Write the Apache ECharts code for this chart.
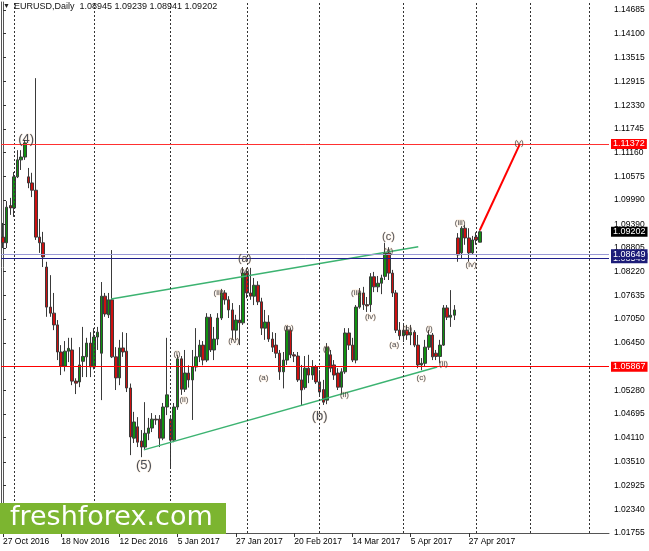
<!DOCTYPE html>
<html><head><meta charset="utf-8">
<script src="https://cdn.jsdelivr.net/npm/echarts@6/dist/echarts.min.js"></script>
<style>html,body{margin:0;padding:0;background:#fff}#c{width:649px;height:551px}</style>
</head><body><div id="c"></div>
<script>
const dates = [
'2016-10-27','2016-10-28','2016-10-31','2016-11-01','2016-11-02','2016-11-03','2016-11-04','2016-11-07','2016-11-08','2016-11-09',
'2016-11-10','2016-11-11','2016-11-14','2016-11-15','2016-11-16','2016-11-17','2016-11-18','2016-11-21','2016-11-22','2016-11-23',
'2016-11-24','2016-11-25','2016-11-28','2016-11-29','2016-11-30','2016-12-01','2016-12-02','2016-12-05','2016-12-06','2016-12-07',
'2016-12-08','2016-12-09','2016-12-12','2016-12-13','2016-12-14','2016-12-15','2016-12-16','2016-12-19','2016-12-20','2016-12-21',
'2016-12-22','2016-12-23','2016-12-27','2016-12-28','2016-12-29','2016-12-30','2017-01-03','2017-01-04','2017-01-05','2017-01-06',
'2017-01-09','2017-01-10','2017-01-11','2017-01-12','2017-01-13','2017-01-16','2017-01-17','2017-01-18','2017-01-19','2017-01-20',
'2017-01-23','2017-01-24','2017-01-25','2017-01-26','2017-01-27','2017-01-30','2017-01-31','2017-02-01','2017-02-02','2017-02-03',
'2017-02-06','2017-02-07','2017-02-08','2017-02-09','2017-02-10','2017-02-13','2017-02-14','2017-02-15','2017-02-16','2017-02-17',
'2017-02-20','2017-02-21','2017-02-22','2017-02-23','2017-02-24','2017-02-27','2017-02-28','2017-03-01','2017-03-02','2017-03-03',
'2017-03-06','2017-03-07','2017-03-08','2017-03-09','2017-03-10','2017-03-13','2017-03-14','2017-03-15','2017-03-16','2017-03-17',
'2017-03-20','2017-03-21','2017-03-22','2017-03-23','2017-03-24','2017-03-27','2017-03-28','2017-03-29','2017-03-30','2017-03-31',
'2017-04-03','2017-04-04','2017-04-05','2017-04-06','2017-04-07','2017-04-10','2017-04-11','2017-04-12','2017-04-13','2017-04-14',
'2017-04-17','2017-04-18','2017-04-19','2017-04-20','2017-04-21','2017-04-24','2017-04-25','2017-04-26','2017-04-27','2017-04-28',
'2017-05-01','2017-05-02'];
const open = [
1.0907,1.0893,1.0985,1.0979,1.1056,1.1098,1.1105,1.1056,1.1041,1.1023,
1.0907,1.0893,1.0833,1.0734,1.0719,1.0690,1.0623,1.0588,1.0625,1.0628,
1.0551,1.0549,1.0600,1.0611,1.0645,1.0586,1.0660,1.0620,1.0761,1.0715,
1.0752,1.0611,1.0559,1.0633,1.0625,1.0534,1.0410,1.0438,1.0403,1.0388,
1.0422,1.0435,1.0457,1.0457,1.0410,1.0487,1.0457,1.0405,1.0487,1.0606,
1.0531,1.0571,1.0554,1.0586,1.0611,1.0640,1.0603,1.0709,1.0628,1.0655,
1.0707,1.0769,1.0752,1.0727,1.0677,1.0702,1.0695,1.0818,1.0769,1.0761,
1.0788,1.0747,1.0682,1.0697,1.0655,1.0640,1.0620,1.0574,1.0603,1.0677,
1.0616,1.0613,1.0554,1.0535,1.0583,1.0566,1.0586,1.0549,1.0530,1.0504,
1.0616,1.0591,1.0571,1.0536,1.0574,1.0670,1.0640,1.0603,1.0734,1.0769,
1.0740,1.0740,1.0809,1.0784,1.0793,1.0810,1.0868,1.0818,1.0769,1.0677,
1.0663,1.0677,1.0665,1.0672,1.0640,1.0591,1.0595,1.0635,1.0665,1.0620,
1.0612,1.0640,1.0732,1.0709,1.0714,1.0905,1.0868,1.0929,1.0905,1.0868,
1.0907,1.08945];
const high = [
1.0942,1.0996,1.1004,1.1068,1.1122,1.1122,1.1147,1.1078,1.1066,1.1300,
1.0952,1.0920,1.0846,1.0813,1.0769,1.0702,1.0640,1.0650,1.0658,1.0658,
1.0558,1.0635,1.0685,1.0658,1.0672,1.0682,1.0685,1.0796,1.0769,1.0769,
1.0875,1.0635,1.0653,1.0672,1.0670,1.0545,1.0475,1.0462,1.0430,1.0499,
1.0460,1.0472,1.0467,1.0467,1.0497,1.0658,1.0462,1.0497,1.0616,1.0613,
1.0628,1.0590,1.0628,1.0682,1.0653,1.0650,1.0719,1.0717,1.0685,1.0719,
1.0779,1.0776,1.0761,1.0744,1.0715,1.0739,1.0833,1.0831,1.0831,1.0806,
1.0798,1.0757,1.0727,1.0714,1.0672,1.0670,1.0628,1.0623,1.0687,1.0682,
1.0623,1.0623,1.0591,1.0613,1.0616,1.0603,1.0591,1.0578,1.0554,1.0645,
1.0628,1.0603,1.0583,1.0583,1.0682,1.0682,1.0658,1.0739,1.0781,1.0784,
1.0759,1.0818,1.0821,1.0811,1.0814,1.0893,1.0882,1.0826,1.0776,1.0697,
1.0690,1.0690,1.0690,1.0677,1.0665,1.0608,1.0653,1.0677,1.0670,1.0628,
1.0653,1.0739,1.0739,1.0776,1.0739,1.0917,1.0934,1.0937,1.0929,1.0910,
1.0919,1.09239];
const low = [
1.0880,1.0880,1.0962,1.0957,1.1053,1.1073,1.1098,1.1028,1.1006,1.0900,
1.0868,1.0833,1.0710,1.0710,1.0677,1.0603,1.0566,1.0575,1.0598,1.0541,
1.0519,1.0536,1.0561,1.0561,1.0561,1.0580,1.0628,1.0504,1.0710,1.0707,
1.0608,1.0529,1.0541,1.0611,1.0524,1.0368,1.0398,1.0388,1.0363,1.0383,
1.0405,1.0425,1.0443,1.0388,1.0405,1.0467,1.0336,1.0400,1.0480,1.0517,
1.0524,1.0535,1.0455,1.0575,1.0598,1.0590,1.0598,1.0623,1.0603,1.0640,
1.0702,1.0740,1.0707,1.0653,1.0653,1.0640,1.0690,1.0756,1.0752,1.0739,
1.0739,1.0665,1.0653,1.0648,1.0623,1.0608,1.0554,1.0533,1.0591,1.0608,
1.0598,1.0549,1.0492,1.0530,1.0546,1.0554,1.0544,1.0512,1.0492,1.0494,
1.0573,1.0554,1.0529,1.0517,1.0569,1.0628,1.0598,1.0595,1.0730,1.0727,
1.0722,1.0722,1.0771,1.0771,1.0766,1.0801,1.0801,1.0759,1.0670,1.0653,
1.0648,1.0653,1.0640,1.0635,1.0583,1.0578,1.0586,1.0628,1.0603,1.0603,
1.0595,1.0638,1.0702,1.0685,1.0702,1.0846,1.0855,1.0888,1.0846,1.0863,
1.0888,1.08941];
const close = [
1.0893,1.0981,1.0979,1.1056,1.1098,1.1105,1.1140,1.1041,1.1023,1.0907,
1.0893,1.0858,1.0734,1.0719,1.0690,1.0623,1.0588,1.0625,1.0632,1.0551,
1.0546,1.0591,1.0612,1.0645,1.0586,1.0660,1.0672,1.0761,1.0717,1.0752,
1.0611,1.0559,1.0633,1.0623,1.0534,1.0413,1.0450,1.0400,1.0388,1.0422,
1.0435,1.0457,1.0455,1.0410,1.0487,1.0517,1.0405,1.0487,1.0606,1.0531,
1.0571,1.0554,1.0586,1.0611,1.0640,1.0603,1.0709,1.0628,1.0655,1.0707,
1.0769,1.0752,1.0727,1.0677,1.0702,1.0695,1.0818,1.0769,1.0761,1.0788,
1.0747,1.0682,1.0697,1.0655,1.0635,1.0620,1.0574,1.0603,1.0677,1.0616,
1.0613,1.0554,1.0529,1.0583,1.0566,1.0586,1.0549,1.0524,1.0499,1.0635,
1.0583,1.0566,1.0536,1.0574,1.0670,1.0640,1.0603,1.0734,1.0769,1.0740,
1.0737,1.0809,1.0784,1.0793,1.0806,1.0868,1.0818,1.0769,1.0677,1.0663,
1.0677,1.0665,1.0672,1.0640,1.0591,1.0595,1.0635,1.0665,1.0611,1.0612,
1.0640,1.0732,1.0709,1.0714,1.0727,1.0863,1.0929,1.0905,1.0868,1.0900,
1.0900,1.09202];

const futureSlots = 35;
const yTicks = [1.01755,1.02340,1.02925,1.03510,1.04110,1.04695,1.05280,1.06450,1.07050,1.07635,1.08220,1.08805,1.09390,1.09990,1.10575,1.11160,1.11745,1.12330,1.12915,1.13515,1.14100,1.14685];
const yMin = 1.01755, yMax = 1.14883;
const redLevels = [1.11372, 1.05867];
const blueLevels = [1.08546, 1.08649];
const gridIdx = [3,25,46,67,87,110,130,145,161];
const upperChannel = [[29.7,1.0754],[114.1,1.0883]];
const lowerChannel = [[38.7,1.0381],[119.3,1.0586]];
const projection = [[131,1.0924],[142,1.1137]];
const waveBig = [[6.35,1.11496,'(4)'],[38.7,1.03436,'(5)'],[87.0,1.04648,'(b)']];
const waveMid = [[66.4,1.08529,'(a)'],[105.9,1.09073,'(c)']];
const waveSmall = [
[66.4,1.08232,'(v)'],[59.3,1.07688,'(iii)'],[63.4,1.06502,'(iv)'],[78.5,1.06823,'(b)'],[71.6,1.05587,'(a)'],
[88.9,1.06304,'(i)'],[93.8,1.05167,'(ii)'],[97.1,1.07688,'(iii)'],[100.96,1.07095,'(iv)'],[105.9,1.08727,'(v)'],
[107.5,1.06403,'(a)'],[111.1,1.06798,'(b)'],[114.9,1.05587,'(c)'],[117.1,1.06798,'(i)'],[121.0,1.05933,'(ii)'],
[125.6,1.09419,'(iii)'],[128.6,1.08381,'(iv)'],[141.8,1.11397,'(v)'],[47.8,1.06180,'(i)'],[49.7,1.05043,'(ii)']];

const MON = ['Jan','Feb','Mar','Apr','May','Jun','Jul','Aug','Sep','Oct','Nov','Dec'];
const cats = dates.slice();
for (let k = 1; k <= futureSlots; k++) cats.push('f' + k);
const N = cats.length;
const last = dates.length - 1;
const fmtDate = v => { if (!/^\d{4}-/.test(v)) return ''; const p = v.split('-'); return (+p[2]) + ' ' + MON[+p[1]-1] + ' ' + p[0]; };
const showIdx = (i, v) => i % 16 === 0 && i <= last;
const FONT = 'Liberation Sans';
const ohlc = dates.map((d, i) => [open[i], close[i], low[i], high[i]]);

function waveSeries(data, size) {
  return {
    type: 'scatter', xAxisIndex: 1, yAxisIndex: 0, data: data, symbolSize: 1, z: 6,
    itemStyle: { color: 'rgba(0,0,0,0)' }, silent: true,
    label: { show: true, position: 'inside', formatter: p => p.data[2], fontSize: size, fontFamily: FONT,
      color: '#1c2536', textBorderColor: 'rgba(235,165,90,0.3)', textBorderWidth: 1 }
  };
}
const lvlLabel = (bg) => ({ show: true, position: 'end', distance: 2, formatter: p => (+p.value).toFixed(5),
  color: '#fff', backgroundColor: bg, padding: [1, 2, 0, 2], fontSize: 9, fontFamily: FONT });

const chart = echarts.init(document.getElementById('c'), null, { renderer: 'canvas' });
chart.setOption({
  animation: false,
  backgroundColor: '#fff',
  grid: { left: 0, right: 40, top: 2, bottom: 18, containLabel: false },
  xAxis: [
    { type: 'category', data: cats, boundaryGap: true,
      axisLine: { show: true, lineStyle: { color: '#555', width: 1 } },
      axisTick: { show: true, alignWithLabel: true, interval: showIdx, length: 4, lineStyle: { color: '#333' } },
      axisLabel: { interval: showIdx, formatter: fmtDate, align: 'left', margin: 4, fontSize: 8.5, fontFamily: FONT, color: '#000' },
      splitLine: { show: false } },
    { type: 'value', min: -0.5, max: N - 0.5, show: false }
  ],
  yAxis: [
    { type: 'value', position: 'right', min: yMin, max: yMax, scale: true,
      axisLine: { show: true, lineStyle: { color: '#555', width: 1 } },
      axisTick: { show: true, length: 3, customValues: yTicks, lineStyle: { color: '#333' } },
      axisLabel: { customValues: yTicks, formatter: v => v.toFixed(5), margin: 5, fontSize: 8.5, fontFamily: FONT, color: '#000' },
      splitLine: { show: false } },
    { type: 'value', position: 'left', min: yMin, max: yMax, scale: true,
      axisLine: { show: true, lineStyle: { color: '#555', width: 1 } },
      axisTick: { show: false }, axisLabel: { show: false }, splitLine: { show: false } }
  ],
  series: [
    { type: 'line', xAxisIndex: 1, yAxisIndex: 0, data: [], z: 1, silent: true,
      markLine: { silent: true, precision: 3, symbol: ['none', 'none'], label: { show: false },
        lineStyle: { color: '#333', type: [2, 2], width: 1 },
        data: gridIdx.map(i => ({ xAxis: i })) } },
    { type: 'candlestick', xAxisIndex: 0, yAxisIndex: 0, data: ohlc, barWidth: 3, z: 3,
      itemStyle: { color: '#109010', color0: '#cc1010', borderColor: '#3a3a3a', borderColor0: '#3a3a3a', borderWidth: 1 },
      markLine: { silent: true, precision: 5, symbol: ['none', 'none'],
        data: [
          { yAxis: redLevels[0], lineStyle: { color: '#ff3030', width: 1, type: 'solid' }, label: lvlLabel('#ff0000') },
          { yAxis: redLevels[1], lineStyle: { color: '#ff0000', width: 1, type: 'solid' }, label: lvlLabel('#ff0000') },
          { yAxis: blueLevels[0], lineStyle: { color: '#20208a', width: 1, type: 'solid' }, label: lvlLabel('#1c1c78') },
          { yAxis: blueLevels[1], lineStyle: { color: '#9a9ad6', width: 1, type: 'solid' }, label: lvlLabel('#1c1c78') },
          { yAxis: close[last], lineStyle: { color: 'rgba(0,0,0,0)', width: 1, type: 'solid' }, label: lvlLabel('#000000') }
        ] } },
    { type: 'line', xAxisIndex: 1, yAxisIndex: 0, data: upperChannel, symbol: 'none', z: 4, silent: true,
      lineStyle: { color: '#3cb371', width: 1.5 } },
    { type: 'line', xAxisIndex: 1, yAxisIndex: 0, data: lowerChannel, symbol: 'none', z: 4, silent: true,
      lineStyle: { color: '#3cb371', width: 1.5 } },
    { type: 'line', xAxisIndex: 1, yAxisIndex: 0, data: projection, symbol: 'none', z: 5, silent: true,
      lineStyle: { color: '#ff0000', width: 2 } },
    waveSeries(waveBig, 13),
    waveSeries(waveMid, 11),
    waveSeries(waveSmall, 8)
  ],
  graphic: [
    { type: 'text', left: 3, top: 3, z: 100, style: { text: '\u25BC', fontSize: 7, fill: '#222', fontFamily: FONT } },
    { type: 'text', left: 14, top: 2, z: 100, style: { text: 'EURUSD,Daily  ' + [open[last], high[last], low[last], close[last]].map(v => v.toFixed(5)).join(' '),
      fontSize: 9, fill: '#111', fontFamily: FONT } },
    { type: 'rect', left: 0, top: 503, z: 90, shape: { width: 226, height: 31 }, style: { fill: '#7cb530' } },
    { type: 'text', left: 10, top: 504, z: 91, style: { text: 'freshforex.com', fontSize: 27, fill: '#fff', fontFamily: 'DejaVu Sans' } }
  ]
});
</script></body></html>
